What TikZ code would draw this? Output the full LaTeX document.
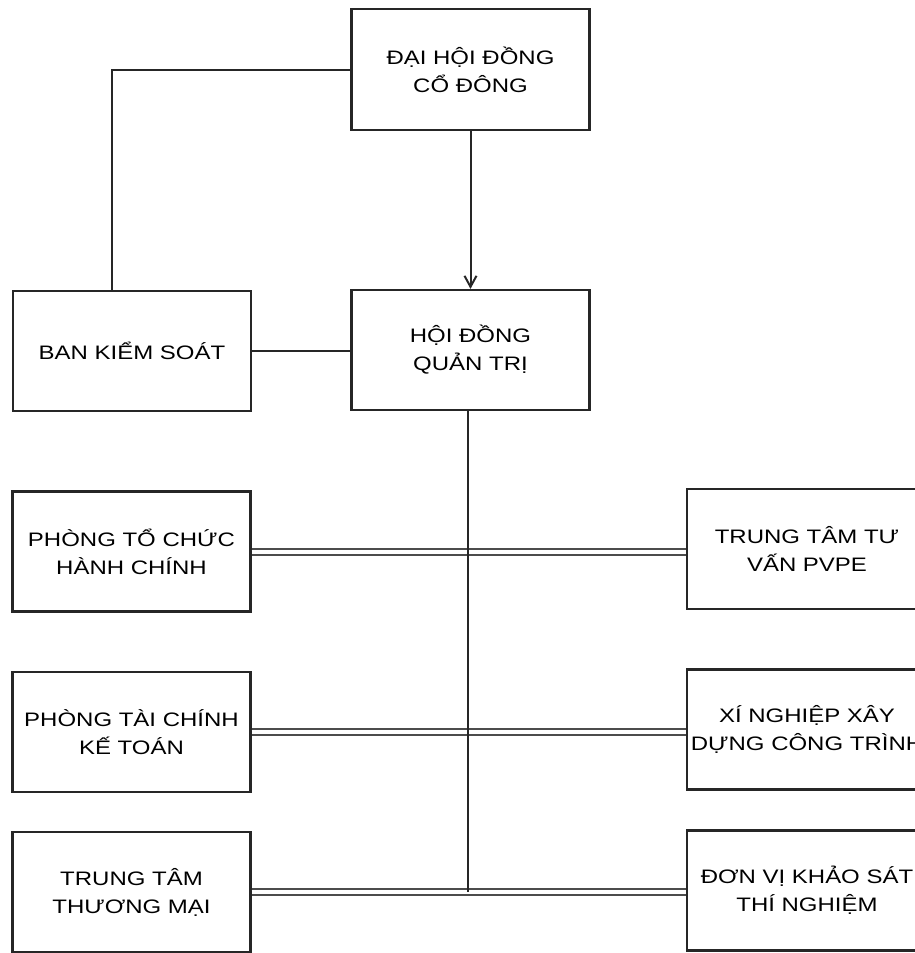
\documentclass[tikz,border=0pt]{standalone}
\usepackage{fontspec}
\setmainfont{Liberation Sans}[FakeStretch=1.23]
\usetikzlibrary{arrows.meta}

\begin{document}
\begin{tikzpicture}[x=1pt, y=-1pt,
    unit/.style={draw=black!85, line width=2.2pt, align=center,
        minimum width=238pt, minimum height=120pt, inner sep=0pt,
        font=\fontsize{19.5}{28}\selectfont},
    link/.style={draw=black!85, line width=2pt},
    twin/.style={draw=black!70, line width=2pt, double=white, double distance=4pt}]

    % Fix the page and cut the boxes at the right edge
    \useasboundingbox (0,0) rectangle (915,953);
    \clip (0,0) rectangle (915,953);

    % Define the top boxes
    \node[unit, minimum height=121pt] (dhdcd) at (470.5,69.5) {ĐẠI HỘI ĐỒNG\\CỔ ĐÔNG};
    \node[unit] (hdqt) at (470.5,350) {HỘI ĐỒNG\\QUẢN TRỊ};
    \node[unit] (bks) at (132,351) {BAN KIỂM SOÁT};

    % Define the departments on the left
    \node[unit] (ptchc) at (131.5,551.5) {PHÒNG TỔ CHỨC\\HÀNH CHÍNH};
    \node[unit] (ptckt) at (131.5,732) {PHÒNG TÀI CHÍNH\\KẾ TOÁN};
    \node[unit] (tttm) at (131.5,892) {TRUNG TÂM\\THƯƠNG MẠI};

    % Define the units on the right
    \node[unit, minimum width=240pt] (tttv) at (807,549) {TRUNG TÂM TƯ\\VẤN PVPE};
    \node[unit, minimum width=240pt] (xnxd) at (807,729.5) {XÍ NGHIỆP XÂY\\DỰNG CÔNG TRÌNH};
    \node[unit, minimum width=240pt] (dvks) at (807,890.5) {ĐƠN VỊ KHẢO SÁT\\THÍ NGHIỆM};

    % Draw the links between the top boxes
    \draw[link] (dhdcd.west) -| ([xshift=-20pt]bks.north);
    \draw[link, -{Straight Barb[length=11pt, width=12pt]}] (dhdcd.south) -- (hdqt.north);
    \draw[link] (bks.east) -- (bks.east -| hdqt.west);

    % Draw the double lines across the rows
    \draw[twin] (ptchc.east) -- (ptchc.east -| tttv.west);
    \draw[twin] (ptckt.east) -- (ptckt.east -| xnxd.west);
    \draw[twin] (tttm.east) -- (tttm.east -| dvks.west);

    % Draw the trunk down from the board
    \coordinate (hub) at ([xshift=-3pt]hdqt.south |- tttm.east);
    \draw[link] ([xshift=-3pt]hdqt.south) -- (hub);

\end{tikzpicture}
\end{document}
